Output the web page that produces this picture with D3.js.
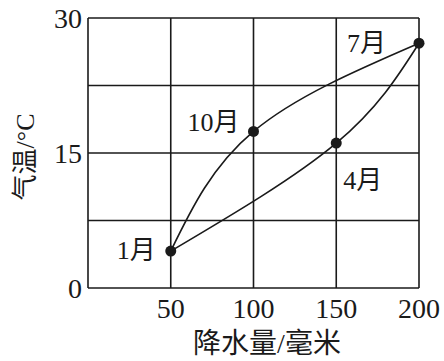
<!DOCTYPE html>
<html>
<head>
<meta charset="utf-8">
<script src="https://cdn.jsdelivr.net/npm/d3@7/dist/d3.min.js"></script>
<style>
  body { margin: 0; background: #fff; }
  svg { display: block; }
</style>
</head>
<body>
<svg id="chart" width="444" height="361"></svg>
<script>
// values
var months = ["1月", "4月", "7月", "10月"];
var precip = [50, 150, 200, 100];      // 降水量 (毫米)
var temp = [4.1, 16.1, 27.2, 17.4];    // 气温 (°C)
var upperPath = ["1月", "10月", "7月"];
var lowerPath = ["1月", "4月", "7月"];
var xTicks = [50, 100, 150, 200];
var yTicks = [0, 15, 30];
var xGrid = [0, 50, 100, 150, 200];
var yGrid = [0, 7.5, 15, 22.5, 30];

var svg = d3.select("#chart");
var margin = {top: 18, right: 25, bottom: 73, left: 88};
var width = 444 - margin.left - margin.right,
    height = 361 - margin.top - margin.bottom;
var serif = "'Liberation Serif', serif";
var cjk = "'Noto Sans CJK SC', sans-serif";
var ink = "#1a1a1a";

var g = svg.append("g")
    .attr("transform", "translate(" + margin.left + "," + margin.top + ")");

var x = d3.scaleLinear().domain([0, 200]).range([0, width]);
var y = d3.scaleLinear().domain([0, 30]).range([height, 0]);

var points = months.map(function(m, i) {
    return {name: m, p: precip[i], t: temp[i]};
});
var byName = {};
points.forEach(function(d) { byName[d.name] = d; });

// writes mixed text: digits / latin in serif, han characters in the CJK font
var mixedText = function(sel, str) {
    str.match(/[\u4e00-\u9fff]+|[^\u4e00-\u9fff]+/g).forEach(function(part) {
        sel.append("tspan")
            .text(part)
            .attr("font-family", /[\u4e00-\u9fff]/.test(part) ? cjk : serif);
    });
};

// grid
g.selectAll("line.vx")
    .data(xGrid)
    .enter()
    .append("line")
    .attr("x1", function(d) { return x(d); })
    .attr("x2", function(d) { return x(d); })
    .attr("y1", 0)
    .attr("y2", height)
    .style("stroke", ink)
    .style("stroke-width", 1.6);

g.selectAll("line.hy")
    .data(yGrid)
    .enter()
    .append("line")
    .attr("y1", function(d) { return y(d); })
    .attr("y2", function(d) { return y(d); })
    .attr("x1", 0)
    .attr("x2", width)
    .style("stroke", ink)
    .style("stroke-width", 1.6);

// tick labels
g.selectAll("text.xt")
    .data(xTicks)
    .enter()
    .append("text")
    .text(function(d) { return d; })
    .attr("x", function(d) { return x(d); })
    .attr("y", height + 30)
    .attr("text-anchor", "middle")
    .attr("font-family", serif)
    .attr("font-size", 28)
    .attr("fill", ink);

g.selectAll("text.yt")
    .data(yTicks)
    .enter()
    .append("text")
    .text(function(d) { return d; })
    .attr("x", -6)
    .attr("y", function(d) { return y(d) + 10; })
    .attr("text-anchor", "end")
    .attr("font-family", serif)
    .attr("font-size", 28)
    .attr("fill", ink);

// axis titles
svg.append("text")
    .attr("x", 267)
    .attr("y", 353)
    .attr("text-anchor", "middle")
    .attr("font-size", 28)
    .attr("fill", ink)
    .call(mixedText, "降水量/毫米");

svg.append("text")
    .attr("transform", "translate(34,157) rotate(-90)")
    .attr("text-anchor", "middle")
    .attr("font-size", 26)
    .attr("fill", ink)
    .call(mixedText, "气温/°C");

// curves
var line = d3.line()
    .x(function(d) { return x(d.p); })
    .y(function(d) { return y(d.t); })
    .curve(d3.curveNatural);

[upperPath, lowerPath].forEach(function(path) {
    g.append("path")
        .datum(path.map(function(n) { return byName[n]; }))
        .attr("d", line)
        .style("fill", "none")
        .style("stroke", ink)
        .style("stroke-width", 1.6);
});

g.selectAll("circle")
    .data(points)
    .enter()
    .append("circle")
    .attr("cx", function(d) { return x(d.p); })
    .attr("cy", function(d) { return y(d.t); })
    .attr("r", 5.5)
    .attr("fill", ink);

// month labels
var labelOffset = {
    "1月": {dx: -15, dy: 8, anchor: "end"},
    "4月": {dx: 7, dy: 46, anchor: "start"},
    "7月": {dx: -33, dy: 9, anchor: "end"},
    "10月": {dx: -14, dy: 0, anchor: "end"}
};

g.selectAll("text.month")
    .data(points)
    .enter()
    .append("text")
    .attr("x", function(d) { return x(d.p) + labelOffset[d.name].dx; })
    .attr("y", function(d) { return y(d.t) + labelOffset[d.name].dy; })
    .attr("text-anchor", function(d) { return labelOffset[d.name].anchor; })
    .attr("font-size", 26)
    .attr("fill", ink)
    .each(function(d) { d3.select(this).call(mixedText, d.name); });
</script>
</body>
</html>
